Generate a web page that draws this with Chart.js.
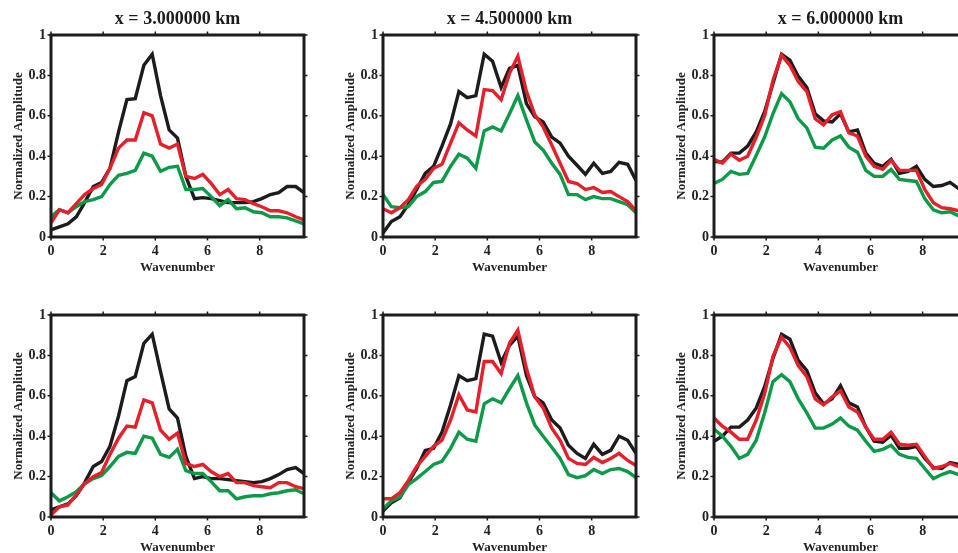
<!DOCTYPE html>
<html>
<head>
<meta charset="utf-8">
<script src="https://cdn.jsdelivr.net/npm/chart.js@4.4.1/dist/chart.umd.min.js"></script>
<style>
  html, body { margin: 0; padding: 0; background: #fff; overflow: hidden; width: 958px; height: 553px; }
  .pnl { position: absolute; }
</style>
</head>
<body>
<canvas id="p1" class="pnl" width="320" height="277" style="left:0px;top:0px;"></canvas>
<canvas id="p2" class="pnl" width="320" height="277" style="left:332px;top:0px;"></canvas>
<canvas id="p3" class="pnl" width="320" height="277" style="left:663px;top:0px;"></canvas>
<canvas id="p4" class="pnl" width="320" height="277" style="left:0px;top:280px;"></canvas>
<canvas id="p5" class="pnl" width="320" height="277" style="left:332px;top:280px;"></canvas>
<canvas id="p6" class="pnl" width="320" height="277" style="left:663px;top:280px;"></canvas>
<script>
// ─── dados ───
var wavenumber = [0, 0.32, 0.65, 0.97, 1.29, 1.62, 1.94, 2.26, 2.59, 2.91, 3.23, 3.56, 3.88, 4.20, 4.53, 4.85,
  5.17, 5.50, 5.82, 6.14, 6.47, 6.79, 7.11, 7.44, 7.76, 8.08, 8.41, 8.73, 9.05, 9.38, 9.70];
var xTicks = [0, 2, 4, 6, 8];
var yTicks = [0, 0.2, 0.4, 0.6, 0.8, 1];
var titulos = ['x = 3.000000 km', 'x = 4.500000 km', 'x = 6.000000 km', '', '', ''];

// linha superior, x = 3 km
var p1Black = [0.035, 0.05, 0.065, 0.10, 0.17, 0.25, 0.27, 0.34, 0.52, 0.68, 0.685, 0.85, 0.905, 0.70, 0.53, 0.49,
  0.30, 0.19, 0.195, 0.19, 0.18, 0.17, 0.17, 0.17, 0.175, 0.19, 0.21, 0.22, 0.25, 0.25, 0.22];
var p1Red = [0.07, 0.135, 0.12, 0.165, 0.21, 0.24, 0.26, 0.34, 0.44, 0.48, 0.48, 0.615, 0.60, 0.46, 0.44, 0.46,
  0.30, 0.29, 0.31, 0.265, 0.21, 0.235, 0.19, 0.185, 0.165, 0.15, 0.13, 0.13, 0.12, 0.10, 0.085];
var p1Green = [0.10, 0.135, 0.12, 0.15, 0.175, 0.185, 0.20, 0.26, 0.305, 0.315, 0.33, 0.415, 0.40, 0.325, 0.345, 0.35,
  0.235, 0.235, 0.24, 0.20, 0.155, 0.185, 0.14, 0.145, 0.125, 0.12, 0.10, 0.10, 0.095, 0.08, 0.065];

// linha superior, x = 4.5 km
var p2Black = [0.02, 0.077, 0.10, 0.16, 0.235, 0.315, 0.35, 0.45, 0.56, 0.72, 0.69, 0.70, 0.905, 0.87, 0.74, 0.835,
  0.85, 0.66, 0.595, 0.57, 0.495, 0.465, 0.40, 0.355, 0.31, 0.365, 0.315, 0.325, 0.37, 0.36, 0.28];
var p2Red = [0.14, 0.12, 0.145, 0.185, 0.25, 0.285, 0.34, 0.36, 0.465, 0.565, 0.53, 0.50, 0.73, 0.725, 0.68, 0.81,
  0.895, 0.72, 0.605, 0.545, 0.455, 0.365, 0.275, 0.265, 0.235, 0.245, 0.22, 0.225, 0.20, 0.175, 0.13];
var p2Green = [0.21, 0.15, 0.145, 0.15, 0.20, 0.225, 0.27, 0.275, 0.35, 0.41, 0.39, 0.34, 0.525, 0.545, 0.525, 0.61,
  0.70, 0.58, 0.47, 0.43, 0.365, 0.31, 0.21, 0.21, 0.185, 0.20, 0.19, 0.19, 0.175, 0.16, 0.12];

// linha superior, x = 6 km
var p3Black = [0.375, 0.37, 0.415, 0.415, 0.45, 0.52, 0.62, 0.76, 0.905, 0.875, 0.795, 0.74, 0.61, 0.575, 0.57, 0.61,
  0.52, 0.53, 0.415, 0.365, 0.35, 0.385, 0.315, 0.325, 0.35, 0.285, 0.25, 0.255, 0.27, 0.24, 0.22];
var p3Red = [0.385, 0.365, 0.41, 0.38, 0.40, 0.495, 0.60, 0.775, 0.90, 0.85, 0.77, 0.72, 0.585, 0.555, 0.605, 0.62,
  0.515, 0.50, 0.40, 0.35, 0.335, 0.38, 0.33, 0.33, 0.33, 0.235, 0.17, 0.145, 0.14, 0.13, 0.12];
var p3Green = [0.265, 0.285, 0.325, 0.31, 0.315, 0.405, 0.495, 0.61, 0.71, 0.67, 0.585, 0.54, 0.445, 0.44, 0.48, 0.50,
  0.445, 0.42, 0.33, 0.30, 0.30, 0.335, 0.285, 0.28, 0.275, 0.19, 0.135, 0.12, 0.125, 0.105, 0.095];

// linha inferior, x = 3 km
var p4Black = [0.035, 0.05, 0.065, 0.105, 0.17, 0.25, 0.275, 0.35, 0.50, 0.675, 0.695, 0.86, 0.905, 0.72, 0.535, 0.49,
  0.30, 0.19, 0.20, 0.19, 0.19, 0.185, 0.18, 0.175, 0.17, 0.175, 0.19, 0.21, 0.235, 0.245, 0.215];
var p4Red = [0.01, 0.05, 0.06, 0.11, 0.165, 0.20, 0.22, 0.31, 0.39, 0.45, 0.445, 0.58, 0.565, 0.43, 0.385, 0.415,
  0.265, 0.25, 0.26, 0.225, 0.20, 0.215, 0.17, 0.17, 0.155, 0.15, 0.145, 0.17, 0.17, 0.15, 0.14];
var p4Green = [0.12, 0.08, 0.10, 0.125, 0.165, 0.19, 0.205, 0.25, 0.30, 0.32, 0.315, 0.40, 0.39, 0.31, 0.295, 0.335,
  0.23, 0.215, 0.215, 0.175, 0.13, 0.13, 0.09, 0.10, 0.105, 0.105, 0.115, 0.12, 0.13, 0.135, 0.115];

// linha inferior, x = 4.5 km
var p5Black = [0.03, 0.07, 0.095, 0.17, 0.24, 0.33, 0.34, 0.42, 0.555, 0.70, 0.675, 0.685, 0.905, 0.895, 0.765, 0.85,
  0.895, 0.70, 0.595, 0.565, 0.48, 0.44, 0.355, 0.315, 0.29, 0.36, 0.31, 0.33, 0.40, 0.38, 0.315];
var p5Red = [0.09, 0.09, 0.12, 0.18, 0.25, 0.30, 0.35, 0.38, 0.48, 0.605, 0.53, 0.52, 0.77, 0.77, 0.71, 0.86,
  0.925, 0.735, 0.595, 0.54, 0.44, 0.38, 0.29, 0.265, 0.26, 0.295, 0.27, 0.29, 0.315, 0.28, 0.255];
var p5Green = [0.04, 0.08, 0.10, 0.16, 0.19, 0.225, 0.26, 0.275, 0.34, 0.42, 0.385, 0.375, 0.56, 0.585, 0.565, 0.635,
  0.70, 0.565, 0.455, 0.40, 0.345, 0.29, 0.21, 0.195, 0.205, 0.235, 0.215, 0.235, 0.24, 0.225, 0.195];

// linha inferior, x = 6 km
var p6Black = [0.375, 0.40, 0.445, 0.445, 0.48, 0.54, 0.645, 0.785, 0.905, 0.88, 0.775, 0.725, 0.615, 0.56, 0.585, 0.65,
  0.565, 0.545, 0.445, 0.375, 0.37, 0.405, 0.34, 0.34, 0.35, 0.29, 0.245, 0.24, 0.27, 0.26, 0.255];
var p6Red = [0.49, 0.45, 0.42, 0.385, 0.385, 0.48, 0.61, 0.795, 0.89, 0.84, 0.75, 0.695, 0.585, 0.555, 0.595, 0.625,
  0.545, 0.52, 0.445, 0.385, 0.385, 0.42, 0.36, 0.355, 0.36, 0.30, 0.24, 0.25, 0.265, 0.25, 0.245];
var p6Green = [0.435, 0.40, 0.35, 0.29, 0.31, 0.38, 0.515, 0.67, 0.705, 0.67, 0.585, 0.515, 0.44, 0.44, 0.46, 0.49,
  0.45, 0.43, 0.375, 0.325, 0.335, 0.355, 0.31, 0.295, 0.29, 0.24, 0.19, 0.21, 0.225, 0.21, 0.20];

var COR_PRETO = '#1c1c1c';
var COR_VERMELHO = '#e5202a';
var COR_VERDE = '#0c9a48';
var FONTE = '"Liberation Serif", "DejaVu Serif", serif';

var paineis = [
  [p1Black, p1Red, p1Green], [p2Black, p2Red, p2Green], [p3Black, p3Red, p3Green],
  [p4Black, p4Red, p4Green], [p5Black, p5Red, p5Green], [p6Black, p6Red, p6Green]
];

function pontos(vals) {
  return wavenumber.map(function(x, i) { return { x: x, y: vals[i] }; });
}

// moldura grossa tipo MATLAB + título do painel
var molduraPlugin = {
  id: 'moldura',
  afterDatasetsDraw: function(chart) {
    var a = chart.chartArea, ctx = chart.ctx;
    var sx = chart.scales.x, sy = chart.scales.y;
    ctx.save();
    ctx.strokeStyle = COR_PRETO;
    ctx.lineWidth = 3;
    ctx.strokeRect(a.left, a.top, a.right - a.left, a.bottom - a.top);
    ctx.lineWidth = 1.5;
    ctx.beginPath();
    xTicks.forEach(function(v) {
      var px = sx.getPixelForValue(v);
      ctx.moveTo(px, a.top - 1); ctx.lineTo(px, a.top - 3.5);
      ctx.moveTo(px, a.bottom + 1); ctx.lineTo(px, a.bottom + 3.5);
    });
    yTicks.forEach(function(v) {
      var py = sy.getPixelForValue(v);
      ctx.moveTo(a.right + 1, py); ctx.lineTo(a.right + 3.5, py);
      ctx.moveTo(a.left - 1, py); ctx.lineTo(a.left - 3.5, py);
    });
    ctx.stroke();
    var t = chart.options.plugins.moldura.titulo;
    if (t) {
      ctx.fillStyle = COR_PRETO;
      ctx.font = 'bold 18px ' + FONTE;
      ctx.textAlign = 'center';
      ctx.textBaseline = 'middle';
      ctx.fillText(t, (a.left + a.right) / 2, 19);
    }
    ctx.restore();
  }
};

paineis.forEach(function(series, idx) {
  var ctx = document.getElementById('p' + (idx + 1)).getContext('2d');
  new Chart(ctx, {
    type: 'line',
    data: {
      datasets: [
        { label: 'red', data: pontos(series[1]), borderColor: COR_VERMELHO },
        { label: 'green', data: pontos(series[2]), borderColor: COR_VERDE },
        { label: 'black', data: pontos(series[0]), borderColor: COR_PRETO }
      ]
    },
    options: {
      responsive: false, animation: false, devicePixelRatio: 1,
      layout: { padding: { top: 35, right: 16, left: 0, bottom: 0 } },
      elements: { point: { radius: 0 }, line: { borderWidth: 3.4, tension: 0, borderJoinStyle: 'miter', borderCapStyle: 'butt' } },
      plugins: { legend: { display: false }, tooltip: { enabled: false }, moldura: { titulo: titulos[idx] } },
      scales: {
        x: {
          type: 'linear', min: 0, max: 9.7,
          grid: { display: false, drawTicks: false }, border: { display: false },
          ticks: { stepSize: 2, includeBounds: false, padding: 6, color: '#222', font: { family: FONTE, size: 14, weight: 'bold' } },
          title: { display: true, text: 'Wavenumber', color: '#222', padding: { top: 0, bottom: 2 }, font: { family: FONTE, size: 13, weight: 'bold' } },
          afterFit: function(s) { s.height = 40; }
        },
        y: {
          type: 'linear', min: 0, max: 1,
          grid: { display: false, drawTicks: false }, border: { display: false },
          ticks: {
            stepSize: 0.2, padding: 5, color: '#222', font: { family: FONTE, size: 14, weight: 'bold' },
            callback: function(v) { return String(Math.round(v * 10) / 10); }
          },
          title: { display: true, text: 'Normalized Amplitude', color: '#222', padding: { top: 11, bottom: 0 }, font: { family: FONTE, size: 13, weight: 'bold' } },
          afterFit: function(s) { s.width = 51; }
        }
      }
    },
    plugins: [molduraPlugin]
  });
});
</script>
</body>
</html>
